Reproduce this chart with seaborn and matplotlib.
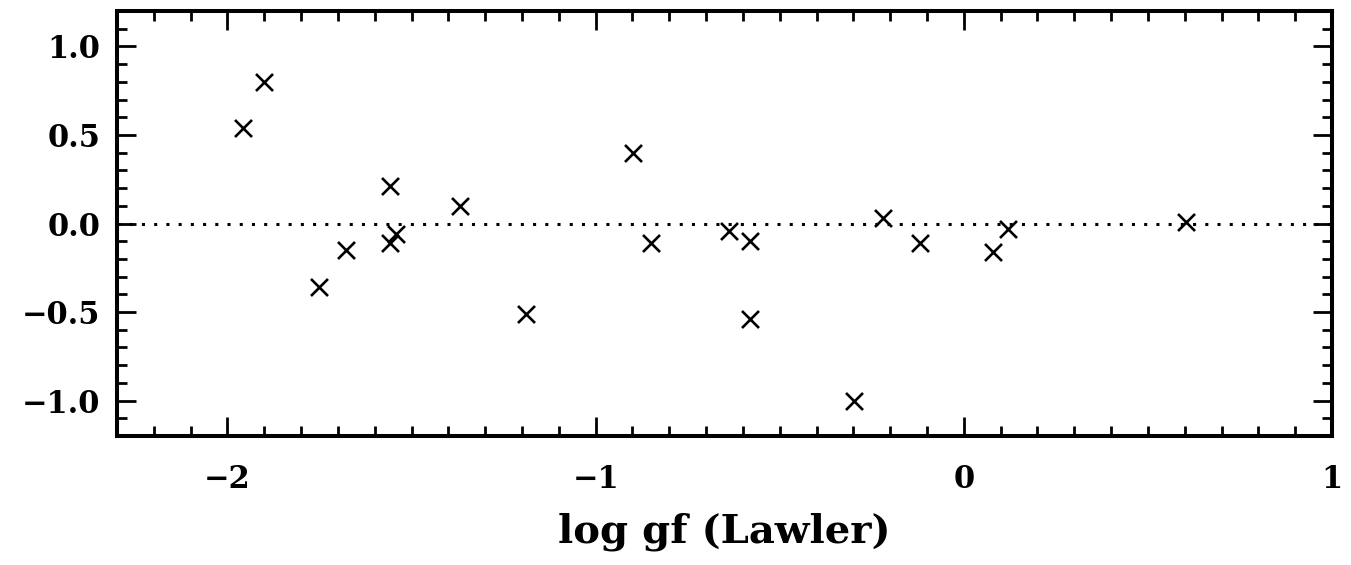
import matplotlib
matplotlib.use("Agg")
import matplotlib.pyplot as plt
from matplotlib.ticker import MultipleLocator, FixedLocator
import seaborn as sns
import pandas as pd

# log gf from Lawler vs. difference in log gf
log_gf_lawler = [-1.958, -1.901, -1.750, -1.679, -1.559, -1.559, -1.541, -1.369,
                 -1.189, -0.899, -0.849, -0.639, -0.580, -0.580, -0.299, -0.219,
                 -0.119, 0.080, 0.121, 0.603]
delta_log_gf = [0.54, 0.80, -0.36, -0.15, 0.21, -0.11, -0.06, 0.10,
                -0.51, 0.40, -0.11, -0.04, -0.10, -0.54, -1.00, 0.03,
                -0.11, -0.16, -0.03, 0.01]

x_ticks = [-2, -1, 0, 1]
y_ticks = [-1.0, -0.5, 0.0, 0.5, 1.0]
x_label = "log gf (Lawler)"

df = pd.DataFrame({"x": log_gf_lawler, "y": delta_log_gf})

sns.set_theme(style="ticks")
plt.rcParams["font.family"] = ["DejaVu Serif", "DejaVu Sans"]
plt.rcParams["font.weight"] = "bold"
plt.rcParams["text.color"] = "black"
plt.rcParams["xtick.color"] = "black"
plt.rcParams["ytick.color"] = "black"
plt.rcParams["axes.labelcolor"] = "black"

fig = plt.figure(figsize=(13.51, 5.65), dpi=100)
ax = fig.add_axes([0.0866, 0.2283, 0.8993, 0.7522])

ax.axhline(0.0, color="black", linewidth=2.2, linestyle=(0, (1, 3)),
           dash_capstyle="butt", zorder=1)

sns.scatterplot(data=df, x="x", y="y", marker="x", s=150, color="black",
                linewidth=1.9, ax=ax, zorder=3, legend=False)

ax.set_xlim(-2.3, 1.0)
ax.set_ylim(-1.2, 1.2)

ax.xaxis.set_major_locator(FixedLocator(x_ticks))
ax.xaxis.set_minor_locator(MultipleLocator(0.1))
ax.yaxis.set_major_locator(FixedLocator(y_ticks))
ax.yaxis.set_minor_locator(MultipleLocator(0.1))

ax.set_xticklabels([f"{t:d}".replace("-", "\u2212") for t in x_ticks])
ax.set_yticklabels([f"{t:.1f}".replace("-", "\u2212") for t in y_ticks])

for side in ["top", "bottom", "left", "right"]:
    ax.spines[side].set_linewidth(2.9)
    ax.spines[side].set_color("black")

ax.tick_params(which="both", direction="in", top=True, right=True,
               width=2.0, color="black", labelsize=22, labelcolor="black")
ax.tick_params(axis="x", which="major", length=14, pad=20)
ax.tick_params(axis="y", which="major", length=14, pad=12)
ax.tick_params(which="minor", length=7)

ax.set_xlabel(x_label, fontsize=29, fontweight="bold", labelpad=13)
ax.set_ylabel("")

fig.savefig("out.png", dpi=100)
